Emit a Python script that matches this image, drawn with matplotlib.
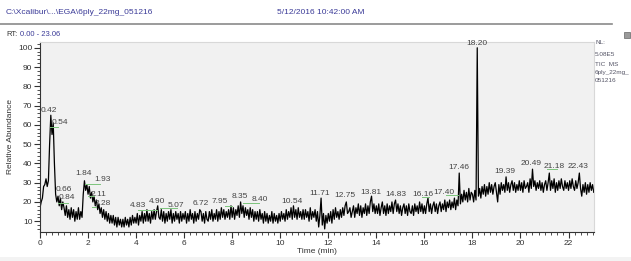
import numpy as np
import matplotlib
matplotlib.use('Agg')
import matplotlib.pyplot as plt
from matplotlib.ticker import MultipleLocator
from matplotlib.patches import Rectangle

plt.rcParams['font.family'] = ['Liberation Sans', 'DejaVu Sans']

# TIC trace, one row per minute, sampled every 0.05 min (relative abundance, %)
tic_rows = [
    [17, 20, 22, 28, 29, 32, 28, 31, 50, 65, 55, 61, 40, 24, 20, 23, 18, 22, 16, 20],
    [17, 13, 18, 12, 16, 11, 17, 12, 16, 10, 15, 11, 17, 11, 15, 12, 24, 31, 26, 29],
    [24, 28, 22, 25, 20, 23, 18, 21, 16, 19, 14, 17, 12, 16, 11, 15, 10, 14, 9, 13],
    [9, 13, 8, 12, 7, 12, 8, 11, 7, 11, 7, 12, 8, 11, 7, 12, 8, 13, 9, 12],
    [9, 14, 8, 13, 10, 15, 9, 14, 10, 16, 10, 14, 9, 15, 11, 16, 11, 15, 18, 12],
    [11, 16, 10, 15, 9, 14, 10, 15, 11, 16, 9, 14, 10, 15, 11, 14, 9, 15, 10, 14],
    [11, 15, 9, 14, 10, 16, 11, 14, 9, 15, 10, 14, 11, 16, 15, 10, 14, 9, 15, 11],
    [10, 15, 11, 16, 10, 14, 11, 16, 10, 15, 11, 17, 12, 16, 11, 15, 12, 16, 11, 18],
    [12, 17, 11, 16, 13, 18, 12, 20, 14, 18, 12, 17, 13, 16, 11, 17, 12, 16, 10, 15],
    [11, 15, 10, 16, 11, 14, 9, 15, 10, 14, 9, 13, 10, 15, 9, 14, 10, 13, 9, 14],
    [10, 15, 11, 14, 10, 16, 11, 15, 12, 17, 11, 18, 12, 16, 11, 17, 12, 15, 11, 16],
    [11, 16, 12, 15, 10, 17, 11, 15, 12, 16, 10, 15, 7, 13, 22, 8, 14, 6, 13, 9],
    [14, 10, 15, 9, 16, 11, 17, 12, 15, 11, 16, 12, 17, 13, 18, 20, 14, 15, 17, 12],
    [15, 18, 12, 17, 14, 19, 13, 18, 12, 17, 14, 19, 13, 18, 14, 20, 23, 15, 19, 14],
    [18, 14, 19, 13, 17, 20, 14, 18, 13, 19, 14, 18, 15, 20, 14, 19, 21, 15, 19, 14],
    [18, 13, 17, 19, 14, 18, 13, 19, 15, 14, 18, 13, 19, 15, 18, 14, 20, 15, 19, 14],
    [18, 14, 19, 22, 15, 19, 14, 18, 20, 15, 19, 14, 18, 20, 15, 19, 16, 21, 15, 20],
    [17, 21, 16, 20, 17, 22, 16, 21, 18, 35, 19, 24, 20, 26, 21, 25, 20, 27, 21, 25],
    [24, 20, 26, 21, 100, 23, 27, 22, 28, 24, 29, 23, 28, 24, 30, 25, 29, 24, 28, 30],
    [25, 20, 29, 24, 30, 26, 29, 25, 33, 26, 30, 25, 29, 31, 26, 30, 25, 29, 26, 31],
    [26, 30, 25, 31, 27, 28, 30, 25, 32, 27, 37, 28, 31, 26, 30, 27, 31, 26, 30, 25],
    [29, 31, 26, 30, 35, 26, 31, 27, 32, 25, 30, 26, 31, 27, 32, 28, 26, 31, 27, 30],
    [26, 31, 27, 32, 28, 26, 31, 27, 30, 35, 27, 23, 29, 25, 30, 24, 29, 25, 30, 26],
    [29, 25],
]
scan_step = 0.05

# peak labels: text, label x (min), label y (%)
peak_labels = ['0.42', '0.54', '0.66', '0.84', '1.84', '1.93', '2.11', '2.28',
               '4.83', '4.90', '5.07', '6.72', '7.95', '8.35', '8.40', '10.54',
               '11.71', '12.75', '13.81', '14.83', '16.16', '17.40', '17.46',
               '18.20', '19.39', '20.49', '21.18', '22.43']
label_x = [0.37, 0.83, 0.98, 1.12, 1.80, 2.60, 2.42, 2.60,
           4.07, 4.87, 5.65, 6.68, 7.50, 8.32, 9.15, 10.50,
           11.65, 12.70, 13.77, 14.80, 15.93, 16.83, 17.43,
           18.17, 19.35, 20.43, 21.40, 22.38]
label_y = [67.5, 61, 26.7, 22.5, 34.5, 31.4, 24, 19,
           18, 20, 18.4, 19, 20, 22.7, 21.5, 20,
           24.6, 23.6, 25, 24, 24, 25, 37.7,
           102, 36, 40, 38.6, 38.3]

# green leader lines: (x0, x1, y)
leaders = [(0.42, 0.75, 58.9), (0.75, 1.16, 19.4), (1.87, 2.50, 29.3),
           (2.00, 2.25, 23.0), (2.15, 2.35, 17.3), (4.07, 4.87, 15.8),
           (5.00, 5.70, 16.8), (7.70, 7.98, 18.0), (8.44, 9.10, 19.4),
           (15.90, 16.20, 22.7), (16.90, 17.40, 23.6), (21.10, 21.50, 37.0)]

tic = np.concatenate([np.array(r, dtype=float) for r in tic_rows])
rt = np.arange(len(tic)) * scan_step

fig = plt.figure(figsize=(6.31, 2.61), dpi=100)
ax = fig.add_axes([40 / 631, 1 - 232 / 261, 554 / 631, 190 / 261])
ax.set_facecolor('#f1f1f1')

ax.plot(rt, tic, color='black', linewidth=0.9)

for x0, x1, y in leaders:
    ax.plot([x0, x1], [y, y], color='#7cc47c', linewidth=0.7)

for txt, x, y in zip(peak_labels, label_x, label_y):
    ax.text(x, y, txt, fontsize=6, color='#444444', ha='center', va='center',
            clip_on=False)

ax.set_xlim(0, 23.06)
ax.set_ylim(4.4, 103)
ax.xaxis.set_major_locator(MultipleLocator(2))
ax.xaxis.set_minor_locator(MultipleLocator(0.25))
ax.yaxis.set_major_locator(MultipleLocator(10))
ax.yaxis.set_minor_locator(MultipleLocator(2))
ax.tick_params(axis='both', which='major', length=4, width=0.8, labelsize=6,
               colors='#333333', pad=1.5)
ax.tick_params(axis='both', which='minor', length=2, width=0.6, colors='#333333')
for s in ['top', 'right']:
    ax.spines[s].set_color('#d8d8d8')
    ax.spines[s].set_linewidth(0.8)
for s in ['left', 'bottom']:
    ax.spines[s].set_color('#333333')
    ax.spines[s].set_linewidth(0.8)

ax.set_xlabel('Time (min)', fontsize=6, color='#333333', labelpad=1)
ax.set_ylabel('Relative Abundance', fontsize=6, color='#333333', labelpad=3)

# header
blue = '#3b3b98'
fig.text(6 / 631, 1 - 13 / 261, 'C:\\Xcalibur\\...\\EGA\\6ply_22mg_051216',
         fontsize=6, color=blue, va='center')
fig.text(277 / 631, 1 - 13 / 261, '5/12/2016 10:42:00 AM',
         fontsize=6, color=blue, va='center')
fig.add_artist(plt.Line2D([0, 612 / 631], [1 - 24 / 261, 1 - 24 / 261],
                          color='#8a8a8a', linewidth=1.2))
fig.text(6 / 631, 1 - 35 / 261, 'RT:', fontsize=5.5, color='#333333', va='center')
fig.text(20 / 631, 1 - 35 / 261, '0.00 - 23.06', fontsize=5.5, color=blue,
         va='center')
fig.patches.append(Rectangle((624 / 631, 1 - 38 / 261), 6 / 631, 6 / 261,
                             transform=fig.transFigure, facecolor='#9a9a9a',
                             edgecolor='#666666', linewidth=0.5))

# side info block
info = [('NL:', 42), ('5.08E5', 54), ('TIC  MS', 65), ('6ply_22mg_', 73),
        ('051216', 81)]
for txt, ypix in info:
    fig.text(595 / 631, 1 - ypix / 261, txt, fontsize=4.6, color='#555566',
             va='center')

# light strip at the bottom
fig.patches.append(Rectangle((0, 0), 1, 4 / 261, transform=fig.transFigure,
                             facecolor='#f3f3f3', edgecolor='none'))

fig.savefig('out.png', dpi=100)
